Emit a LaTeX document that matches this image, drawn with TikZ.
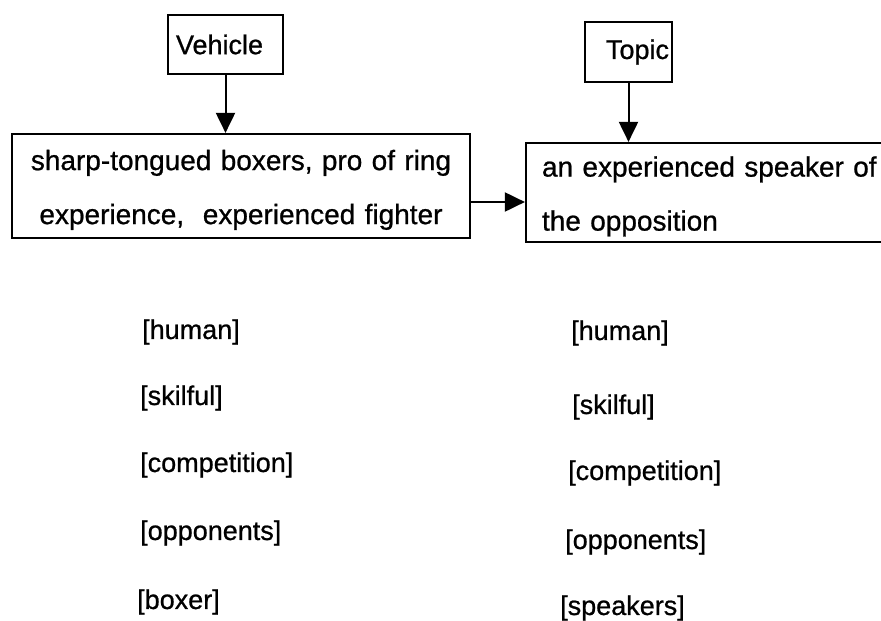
\documentclass[tikz,border=0pt]{standalone}
\usepackage{fontspec}
\setmainfont{Liberation Sans}[FakeBold=0.8]
\usepackage{tikz}
\usetikzlibrary{arrows.meta}
\tikzset{frame/.style={draw, line width=2.2pt, inner ysep=0pt},
boxtext/.style={font=\fontsize{28pt}{54pt}\selectfont},
seme/.style={anchor=west, inner sep=0pt, font=\fontsize{27pt}{32pt}\selectfont},
link/.style={line width=2pt, -{Triangle[length=20pt,width=19pt]}}}
\newcommand{\toprule}{\rule{0pt}{28pt}}

\begin{document}
\begin{tikzpicture}[x=1pt,y=-1pt]
\useasboundingbox (0,0) rectangle (881,621);
\node[frame, font=\fontsize{27pt}{32pt}\selectfont, minimum height=59pt, inner xsep=8pt, text width=99pt, align=left] (veh) at (225.5,44.5) {Vehicle};
\node[frame, font=\fontsize{27pt}{32pt}\selectfont, minimum height=60pt, inner xsep=3pt, text width=81pt, align=right] (top) at (628.5,52) {Topic};
\node[frame, boxtext, minimum height=104pt, inner xsep=10pt, text width=438pt, align=center] (vbox) at (241,186)
{\toprule sharp-tongued boxers, pro of ring\\experience,~ experienced fighter};
\node[frame, boxtext, minimum height=99pt, inner xsep=16pt, text width=337pt, align=left] (tbox) at (710.5,192.5)
{\toprule an experienced speaker of\\the opposition};
\draw[link] (veh.south) -- (veh.south |- vbox.north);
\draw[link] (top.south) -- (top.south |- tbox.north);
\coordinate (mid) at ([yshift=-16pt]vbox.east);
\draw[link] (mid) -- (mid -| tbox.west);
% semantic features
\foreach \n/\lx/\ly/\lt/\rx/\ry/\rt in {1/142/332/human/571/333/human,
  2/140/398/skilful/572/407/skilful,
  3/140/465/competition/568/473/competition,
  4/140/533/opponents/565/542/opponents,
  5/137/602/boxer/560/608/speakers}{
  \node[seme] (l\n) at (\lx,\ly) {[\lt]};
  \node[seme] (r\n) at (\rx,\ry) {[\rt]};
}
\end{tikzpicture}
\end{document}
